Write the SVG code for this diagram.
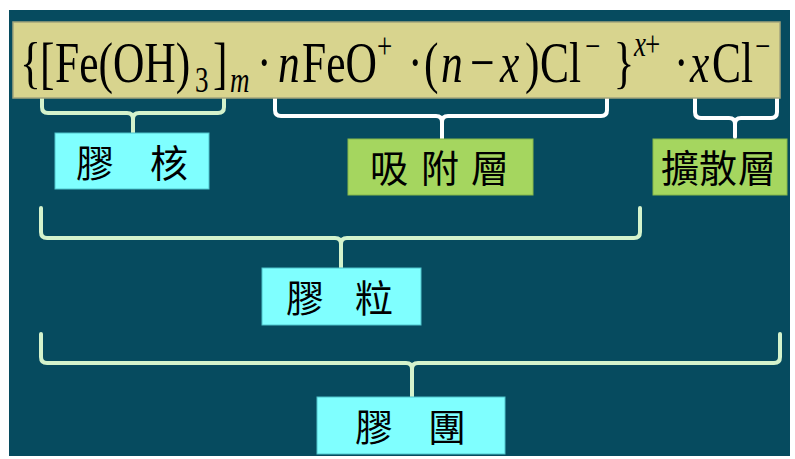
<svg xmlns="http://www.w3.org/2000/svg" width="795" height="459" viewBox="0 0 795 459">
<style>
.f{font-family:"Liberation Serif","Times New Roman",serif;font-size:58px;fill:#000}
.s{font-size:36px}
.i{font-style:italic}
.c{font-family:"Noto Sans CJK TC","Noto Sans CJK SC",sans-serif;font-size:38px;fill:#000}
.br{fill:none;stroke-width:4;stroke-linecap:round;stroke-linejoin:round}
.lt{stroke:#d4f3cc}
.wt{stroke:#ffffff}
.cy{fill:#7fffff;stroke:#4fc4cc;stroke-width:1}
.gr{fill:#a5d65f;stroke:#86b84a;stroke-width:1}
</style>
<rect x="0" y="0" width="795" height="459" fill="#ffffff"/>
<rect x="9" y="10" width="781" height="446" fill="#064b5f"/>
<g id="connectors">
<path class="br lt" d="M42 98 V107 Q42 113 48 113 H127 Q133 113 133 119 V133 M224 98 V107 Q224 113 218 113 H139 Q133 113 133 119"/>
<path class="br wt" d="M275 98 V110 Q275 116 281 116 H436 Q442 116 442 122 V139 M607 98 V110 Q607 116 601 116 H448 Q442 116 442 122"/>
<path class="br wt" d="M695 98 V112 Q695 118 701 118 H729 Q735 118 735 124 V137 M777 98 V112 Q777 118 771 118 H741 Q735 118 735 124"/>
<path class="br lt" d="M41 208 V232 Q41 238 47 238 H335 Q341 238 341 244 V268 M640 208 V232 Q640 238 634 238 H347 Q341 238 341 244"/>
<path class="br lt" d="M41 334 V357 Q41 363 47 363 H406 Q412 363 412 369 V397 M780 334 V357 Q780 363 774 363 H418 Q412 363 412 369"/>
</g>
<g id="formula">
<rect x="13" y="22" width="767" height="76" fill="#d8d48e" stroke="#a3a57c" stroke-width="1.5"/>
<text class="f" transform="scale(0.75,1)" y="82"><tspan x="26.7" y="82">{</tspan><tspan x="53.3" y="82">[</tspan><tspan x="73.3" y="82">Fe(OH)</tspan><tspan class="s" x="260" y="92">3</tspan><tspan x="284" y="82">]</tspan><tspan class="s i" x="306.7" y="92">m</tspan><tspan x="342.7" y="82">·</tspan><tspan class="i" x="370.7" y="82">n</tspan><tspan x="402.7" y="82">FeO</tspan><tspan class="s" x="502.7" y="58">+</tspan><tspan x="544" y="82">·</tspan><tspan x="565.3" y="82">(</tspan><tspan class="i" x="588" y="82">n</tspan><tspan x="626.7" y="82">−</tspan><tspan class="i" x="666.7" y="82">x</tspan><tspan x="700" y="82">)</tspan><tspan x="720" y="82">Cl</tspan><tspan class="s" x="780" y="58">−</tspan><tspan x="818" y="82">}</tspan><tspan class="s i" x="845.3" y="56">x</tspan><tspan class="s" x="860" y="56">+</tspan><tspan x="898.7" y="82">·</tspan><tspan class="i" x="920" y="82">x</tspan><tspan x="949.3" y="82">Cl</tspan><tspan class="s" x="1006.7" y="58">−</tspan></text>
</g>
<g id="jiaohe">
<rect class="cy" x="55" y="133" width="154" height="56"/>
<text class="c" x="76 150" y="177">膠核</text>
</g>
<g id="xifuceng">
<rect class="gr" x="348" y="139" width="185" height="56"/>
<text class="c" x="370 421 471" y="182">吸附層</text>
</g>
<g id="kuosanceng">
<rect class="gr" x="653" y="139" width="134" height="56"/>
<text class="c" x="661 699 738" y="182">擴散層</text>
</g>
<g id="jiaoli">
<rect class="cy" x="262" y="268" width="159" height="57"/>
<text class="c" x="286 355" y="312">膠粒</text>
</g>
<g id="jiaotuan">
<rect class="cy" x="317" y="397" width="188" height="57"/>
<text class="c" x="355 428" y="441">膠團</text>
</g>
</svg>
